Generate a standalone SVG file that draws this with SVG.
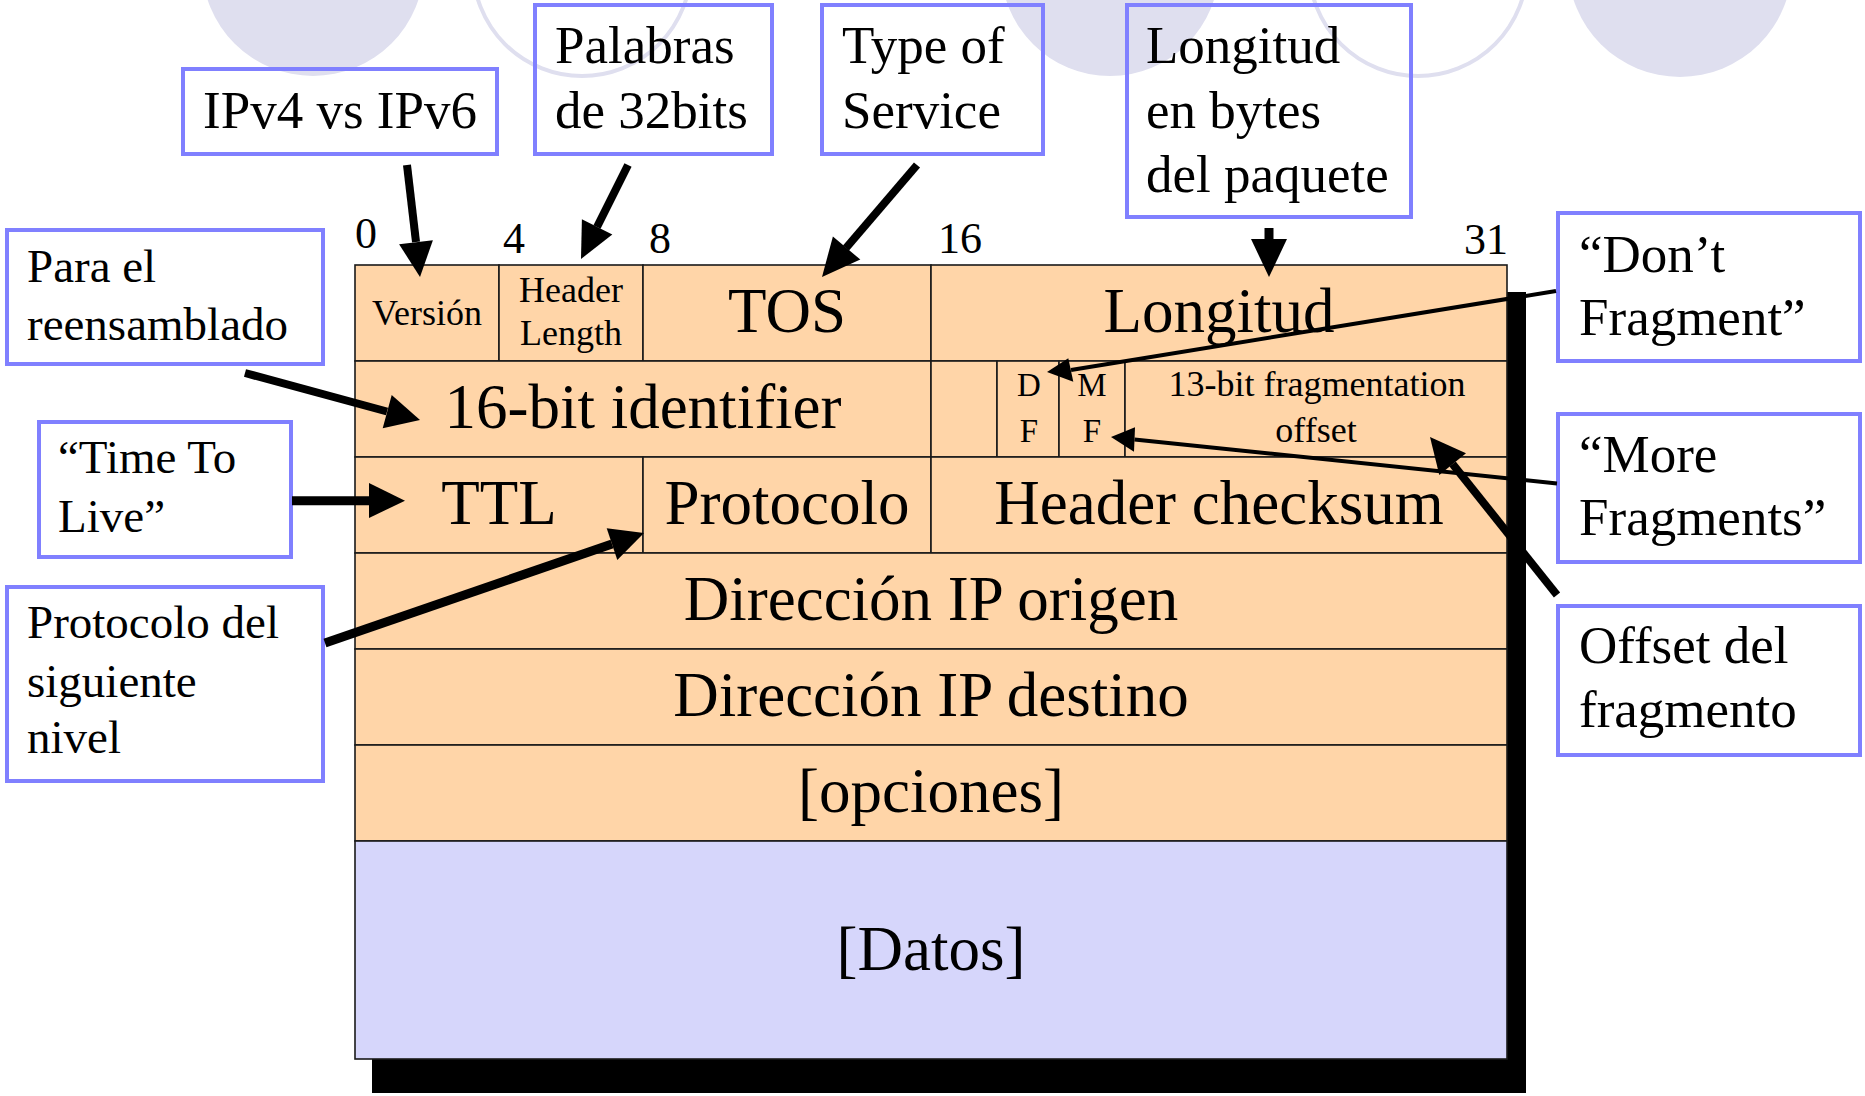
<svg xmlns="http://www.w3.org/2000/svg" width="1865" height="1096" viewBox="0 0 1865 1096">
<style>
.bgc{fill:#dfdfef;}
.bgo{fill:none;stroke:#dfdfef;stroke-width:4;}
.cell{fill:#ffd5a8;stroke:#1a1a1a;stroke-width:1.6;}
.data{fill:#d6d6fb;stroke:#1a1a1a;stroke-width:1.6;}
.lbl{fill:none;stroke:#8080ff;stroke-width:4;}
text{font-family:"Liberation Serif","Times New Roman",serif;fill:#000;}
.c{text-anchor:middle;}
.big{font-size:63px;}
.sm{font-size:36px;}
.num{font-size:44px;text-anchor:middle;}
.l53{font-size:53px;}
.l47{font-size:47px;}
.ln{stroke:#000;fill:none;}
.hd{fill:#000;}
</style>
<rect width="1865" height="1096" fill="#ffffff"/>
<g id="background">
<circle class="bgc" cx="313" cy="-35" r="111"/>
<circle class="bgo" cx="582" cy="-33" r="109"/>
<circle class="bgc" cx="1110" cy="-33" r="109"/>
<circle class="bgo" cx="1418" cy="-33" r="109"/>
<circle class="bgc" cx="1680" cy="-35" r="112"/>
</g>
<rect id="shadow" x="372" y="292" width="1154" height="801" fill="#000"/>
<g id="header-table">
<g id="f-version"><rect class="cell" x="355" y="265" width="144" height="96"/><text class="c sm" x="427" y="325">Versión</text></g>
<g id="f-hlen"><rect class="cell" x="499" y="265" width="144" height="96"/><text class="c sm" x="571" y="302">Header</text><text class="c sm" x="571" y="345">Length</text></g>
<g id="f-tos"><rect class="cell" x="643" y="265" width="288" height="96"/><text class="c big" x="787" y="332">TOS</text></g>
<g id="f-len"><rect class="cell" x="931" y="265" width="576" height="96"/><text class="c big" x="1219" y="332">Longitud</text></g>
<g id="f-id"><rect class="cell" x="355" y="361" width="576" height="96"/><text class="c big" x="643" y="428">16-bit identifier</text></g>
<g id="f-blank"><rect class="cell" x="931" y="361" width="66" height="96"/></g>
<g id="f-df"><rect class="cell" x="997" y="361" width="62" height="96"/><text class="c" font-size="33" x="1029" y="396">D</text><text class="c" font-size="33" x="1029" y="442">F</text></g>
<g id="f-mf"><rect class="cell" x="1059" y="361" width="66" height="96"/><text class="c" font-size="33" x="1092" y="396">M</text><text class="c" font-size="33" x="1092" y="442">F</text></g>
<g id="f-off"><rect class="cell" x="1125" y="361" width="382" height="96"/><text class="c sm" x="1317" y="396">13-bit fragmentation</text><text class="c sm" x="1316" y="442">offset</text></g>
<g id="f-ttl"><rect class="cell" x="355" y="457" width="288" height="96"/><text class="c big" x="499" y="524">TTL</text></g>
<g id="f-proto"><rect class="cell" x="643" y="457" width="288" height="96"/><text class="c big" x="787" y="524">Protocolo</text></g>
<g id="f-csum"><rect class="cell" x="931" y="457" width="576" height="96"/><text class="c big" x="1219" y="524">Header checksum</text></g>
<g id="f-src"><rect class="cell" x="355" y="553" width="1152" height="96"/><text class="c big" x="931" y="620">Dirección IP origen</text></g>
<g id="f-dst"><rect class="cell" x="355" y="649" width="1152" height="96"/><text class="c big" x="931" y="716">Dirección IP destino</text></g>
<g id="f-opt"><rect class="cell" x="355" y="745" width="1152" height="96"/><text class="c big" x="931" y="812">[opciones]</text></g>
<g id="f-data"><rect class="data" x="355" y="841" width="1152" height="218"/><text class="c big" x="931" y="970">[Datos]</text></g>
</g>
<g id="bit-numbers">
<text class="num" x="366" y="248">0</text>
<text class="num" x="514" y="253">4</text>
<text class="num" x="660" y="253">8</text>
<text class="num" x="960" y="253">16</text>
<text class="num" x="1486" y="254">31</text>
</g>
<g id="n-ipv"><rect class="lbl" x="183" y="69" width="314" height="85"/><text class="l53" x="203" y="128">IPv4 vs IPv6</text></g>
<g id="n-words"><rect class="lbl" x="535" y="5" width="237" height="149"/><text class="l53" x="555" y="63">Palabras</text><text class="l53" x="555" y="128">de 32bits</text></g>
<g id="n-tos"><rect class="lbl" x="822" y="5" width="221" height="149"/><text class="l53" x="842" y="63">Type of</text><text class="l53" x="842" y="128">Service</text></g>
<g id="n-len"><rect class="lbl" x="1127" y="5" width="284" height="212"/><text class="l53" x="1146" y="63">Longitud</text><text class="l53" x="1146" y="128">en bytes</text><text class="l53" x="1146" y="192">del paquete</text></g>
<g id="n-df"><rect class="lbl" x="1558" y="213" width="302" height="148"/><text class="l53" x="1579" y="272">“Don’t</text><text class="l53" x="1579" y="335">Fragment”</text></g>
<g id="n-mf"><rect class="lbl" x="1558" y="414" width="302" height="148"/><text class="l53" x="1579" y="472">“More</text><text class="l53" x="1579" y="535">Fragments”</text></g>
<g id="n-offset"><rect class="lbl" x="1558" y="606" width="302" height="149"/><text class="l53" x="1579" y="663">Offset del</text><text class="l53" x="1579" y="727">fragmento</text></g>
<g id="n-reasm"><rect class="lbl" x="7" y="230" width="316" height="134"/><text class="l47" x="27" y="282">Para el</text><text class="l47" x="27" y="340">reensamblado</text></g>
<g id="n-ttl"><rect class="lbl" x="39" y="422" width="252" height="135"/><text class="l47" x="58" y="473">“Time To</text><text class="l47" x="58" y="532">Live”</text></g>
<g id="n-proto"><rect class="lbl" x="7" y="587" width="316" height="194"/><text class="l47" x="27" y="638">Protocolo del</text><text class="l47" x="27" y="697">siguiente</text><text class="l47" x="27" y="753">nivel</text></g>
<g id="connectors">
<line class="ln" stroke-width="8" x1="407" y1="165" x2="416" y2="242"/><polygon class="hd" points="420,277 432.9,240.2 399.1,244.2"/>
<line class="ln" stroke-width="8" x1="628" y1="165" x2="597" y2="227"/><polygon class="hd" points="581,259 612.3,234.4 581.9,219.2"/>
<line class="ln" stroke-width="8" x1="917" y1="165" x2="846" y2="248"/><polygon class="hd" points="822,277 860.3,259.6 832.9,236.4"/>
<line class="ln" stroke-width="9" x1="1269" y1="228" x2="1269" y2="240"/><polygon class="hd" points="1251,239 1287,239 1269,277"/>
<line class="ln" stroke-width="8" x1="245" y1="373" x2="387" y2="411.5"/><polygon class="hd" points="420,420 391.7,395 382.7,428.3"/>
<line class="ln" stroke-width="9" x1="292" y1="500.7" x2="370" y2="500.7"/><polygon class="hd" points="405,500.7 369,483 369,518"/>
<line class="ln" stroke-width="9" x1="325" y1="643" x2="612" y2="544"/><polygon class="hd" points="644,533 606.7,528.3 617.3,560"/>
<line class="ln" stroke-width="4" x1="1556" y1="291" x2="1071" y2="370"/><polygon class="hd" points="1047,372 1068.3,358.3 1073.3,381.7"/>
<line class="ln" stroke-width="4" x1="1557" y1="483.5" x2="1134.5" y2="439.5"/><polygon class="hd" points="1111,437 1135,427.3 1134,451.7"/>
<line class="ln" stroke-width="8" x1="1557" y1="595" x2="1452.6" y2="464"/><polygon class="hd" points="1430,437 1466,453.3 1439.3,475"/>
</g>
</svg>
